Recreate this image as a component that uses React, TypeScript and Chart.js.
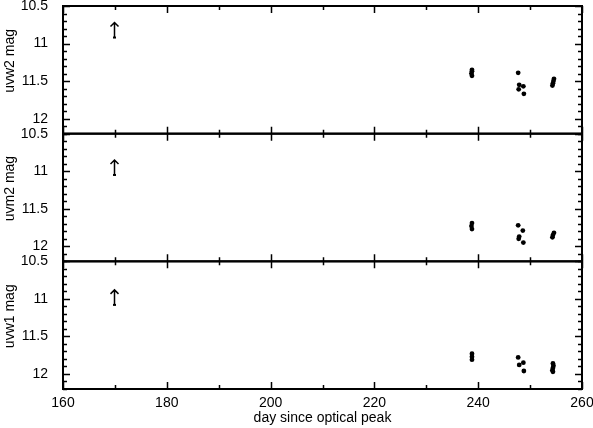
import React, { useEffect, useRef } from "react";
import { Chart, registerables } from "chart.js";

Chart.register(...registerables);

// ---- data ----
const panelTitles = ["uvw2 mag", "uvm2 mag", "uvw1 mag"];
const xTitle = "day since optical peak";

const uvw2Days = [238.8, 238.8, 238.7, 238.8, 247.7, 247.9, 248.7, 247.8, 248.8, 254.6, 254.5, 254.4, 254.3];
const uvw2Mags = [11.35, 11.37, 11.40, 11.43, 11.39, 11.55, 11.57, 11.61, 11.67, 11.47, 11.50, 11.53, 11.56];

const uvm2Days = [238.8, 238.7, 238.8, 247.7, 248.6, 247.9, 247.8, 248.7, 254.6, 254.4, 254.3];
const uvm2Mags = [11.69, 11.73, 11.77, 11.72, 11.79, 11.87, 11.90, 11.95, 11.82, 11.85, 11.88];

const uvw1Days = [238.8, 238.8, 238.8, 247.7, 248.7, 247.9, 248.8, 254.4, 254.5, 254.4, 254.3, 254.4];
const uvw1Mags = [11.73, 11.77, 11.81, 11.78, 11.85, 11.88, 11.96, 11.86, 11.89, 11.92, 11.95, 11.97];

// upper limits (arrows pointing up)
const limitDays = [169.9, 169.9, 169.9];
const limitMags = [10.92, 11.05, 11.08];

const xMin = 160;
const xMax = 260;
const xMajor = 20;
const xMinor = 10;
const yMin = 10.5;
const yMax = 12.2;
const yMajor = 0.5;
const yMinor = 0.1;

const FONT = "'Liberation Sans', Arial, Helvetica, sans-serif";
const yIds = ["y1", "y2", "y3"];

const framePlugin = {
  id: "framePlugin",
  afterDatasetsDraw(chart: any) {
    const ctx = chart.ctx;
    const area = chart.chartArea;
    const xs = chart.scales.x;
    ctx.save();
    ctx.strokeStyle = "#000";
    ctx.fillStyle = "#000";
    yIds.forEach((id, i) => {
      const ys = chart.scales[id];
      const top = ys.top;
      const bottom = ys.bottom;
      // frame
      ctx.lineWidth = 2;
      ctx.strokeRect(area.left, top, area.right - area.left, bottom - top);
      // y ticks
      ctx.lineWidth = 1.5;
      for (let k = 0; ; k++) {
        const v = Math.round((yMin + k * yMinor) * 100) / 100;
        if (v > yMax + 1e-9) break;
        const isMajor = Math.abs(v / yMajor - Math.round(v / yMajor)) < 1e-6;
        const len = isMajor ? 7 : 4;
        const py = Math.round(ys.getPixelForValue(v)) + 0.5;
        ctx.beginPath();
        ctx.moveTo(area.left, py);
        ctx.lineTo(area.left + len, py);
        ctx.moveTo(area.right, py);
        ctx.lineTo(area.right - len, py);
        ctx.stroke();
      }
      // x ticks
      for (let v = xMin; v <= xMax; v += xMinor) {
        const isMajor = v % xMajor === 0;
        const len = isMajor ? 7 : 4;
        const px = Math.round(xs.getPixelForValue(v)) + 0.5;
        ctx.beginPath();
        ctx.moveTo(px, bottom);
        ctx.lineTo(px, bottom - len);
        ctx.moveTo(px, top);
        ctx.lineTo(px, top + len);
        ctx.stroke();
      }
      // limit arrow
      const ax = Math.round(xs.getPixelForValue(limitDays[i])) + 0.5;
      const ay = ys.getPixelForValue(limitMags[i]);
      ctx.lineWidth = 1.5;
      ctx.beginPath();
      ctx.moveTo(ax, ay);
      ctx.lineTo(ax, ay - 15);
      ctx.moveTo(ax - 4, ay - 11);
      ctx.lineTo(ax, ay - 15);
      ctx.lineTo(ax + 4, ay - 11);
      ctx.stroke();
      ctx.fillRect(ax - 1.5, ay - 1, 3, 2);
      // y title
      ctx.save();
      ctx.font = `14px ${FONT}`;
      ctx.textAlign = "center";
      ctx.textBaseline = "middle";
      ctx.translate(10, top + (bottom - top) * 0.43);
      ctx.rotate(-Math.PI / 2);
      ctx.fillText(panelTitles[i], 0, 0);
      ctx.restore();
    });
    // x title
    ctx.font = `14px ${FONT}`;
    ctx.textAlign = "center";
    ctx.textBaseline = "middle";
    ctx.fillText(xTitle, (area.left + area.right) / 2, 418);
    ctx.restore();
  },
};

const zeroPad = (s: any) => {
  s.paddingTop = 0;
  s.paddingBottom = 0;
  s.paddingLeft = 0;
  s.paddingRight = 0;
};

export default function App() {
  const ref = useRef<HTMLCanvasElement | null>(null);
  useEffect(() => {
    if (!ref.current) return;
    Chart.defaults.font.family = FONT;
    Chart.defaults.font.size = 14;
    Chart.defaults.color = "#000";
    const mk = (days: number[], mags: number[], yAxisID: string, label: string) => ({
      label,
      data: days.map((d, i) => ({ x: d, y: mags[i] })),
      yAxisID,
      backgroundColor: "#000",
      borderColor: "#000",
      pointRadius: 2.4,
      borderWidth: 0,
      showLine: false,
    });
    const yAxis = (weight: number) => ({
      type: "linear",
      position: "left",
      stack: "panels",
      stackWeight: 1,
      weight,
      reverse: true,
      min: yMin,
      max: yMax,
      grid: { display: false },
      border: { display: false },
      ticks: {
        stepSize: yMajor,
        includeBounds: false,
        padding: 7,
        color: "#000",
        font: { size: 14 },
        callback: (v: number) => String(v),
      },
      afterFit: (s: any) => {
        s.width = 63;
        zeroPad(s);
      },
    });
    const chart = new Chart(ref.current, {
      type: "scatter",
      data: {
        datasets: [
          mk(uvw2Days, uvw2Mags, "y1", "uvw2"),
          mk(uvm2Days, uvm2Mags, "y2", "uvm2"),
          mk(uvw1Days, uvw1Mags, "y3", "uvw1"),
        ],
      },
      options: {
        animation: false,
        responsive: false,
        devicePixelRatio: 1,
        layout: { padding: { top: 6, right: 11, left: 0, bottom: 0 } },
        plugins: { legend: { display: false }, tooltip: { enabled: false } },
        scales: {
          x: {
            type: "linear",
            position: "bottom",
            min: xMin,
            max: xMax,
            grid: { display: false },
            border: { display: false },
            ticks: { stepSize: xMajor, padding: -2, color: "#000", maxRotation: 0, font: { size: 14 } },
            afterFit: (s: any) => {
              s.height = 39;
              zeroPad(s);
            },
          },
          y1: yAxis(3),
          y2: yAxis(2),
          y3: yAxis(1),
        } as any,
      },
      plugins: [framePlugin],
    } as any);
    return () => chart.destroy();
  }, []);
  return (
    <div style={{ position: "absolute", left: 0, top: 0, width: 593, height: 428, background: "#fff" }}>
      <canvas ref={ref} width={593} height={428} />
    </div>
  );
}
